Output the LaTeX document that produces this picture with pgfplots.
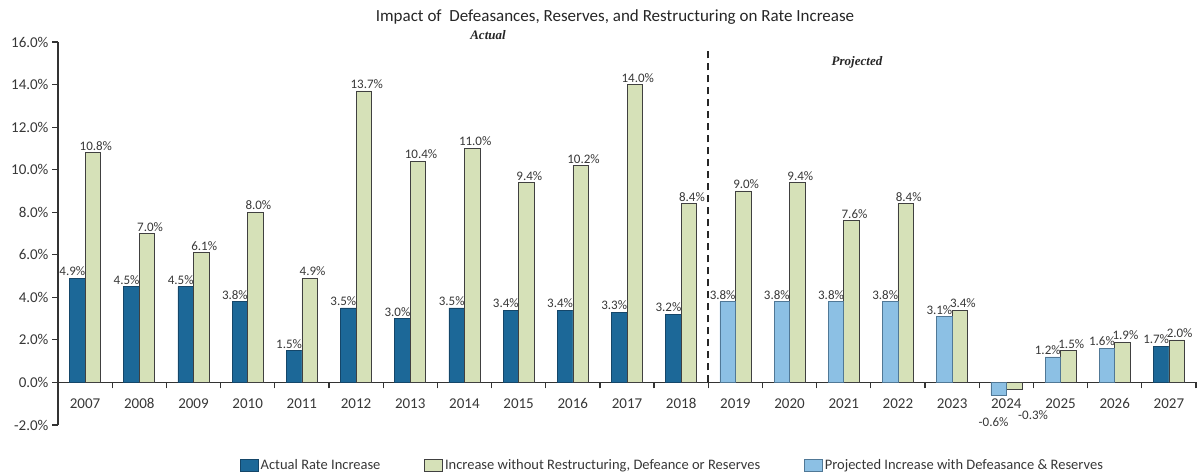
\documentclass[border=0pt]{standalone}
\usepackage{fontspec}
\setmainfont{Carlito}
\newfontfamily\serifit{Liberation Serif}
\usepackage{pgfplots}
\pgfplotsset{compat=1.18}
\definecolor{actblue}{RGB}{28,104,152}
\definecolor{actedge}{RGB}{20,70,105}
\definecolor{lgreen}{RGB}{214,225,184}
\definecolor{projblue}{RGB}{140,192,228}
\definecolor{projedge}{RGB}{80,120,150}
\definecolor{txt}{RGB}{55,55,55}
\begin{document}
\begin{tikzpicture}
\useasboundingbox (0,0) rectangle (1200pt,475pt);
\begin{axis}[
  at={(58pt,50pt)}, anchor=south west,
  scale only axis, width=1138pt, height=383pt,
  xmin=-0.5, xmax=20.5, ymin=-2, ymax=16,
  ybar,
  legend image code/.code={\draw[#1] (0pt,-6pt) rectangle (18pt,6pt);},
  axis x line=middle, axis y line=left,
  axis line style={-, line width=1.3pt, color=black!80},
  every inner x axis line/.append style={-},
  every outer y axis line/.append style={-},
  hide obscured y ticks=false,
  hide obscured x ticks=false,
  xtick={-0.5,0.5,1.5,2.5,3.5,4.5,5.5,6.5,7.5,8.5,9.5,10.5,11.5,12.5,13.5,14.5,15.5,16.5,17.5,18.5,19.5,20.5},
  x tick label as interval,
  xticklabels={2007,2008,2009,2010,2011,2012,2013,2014,2015,2016,2017,2018,2019,2020,2021,2022,2023,2024,2025,2026,2027},
  xticklabel style={anchor=north, text height=10pt, text depth=0pt, yshift=-7pt},
  ytick={-2,0,...,16},
  yticklabel={\pgfmathprintnumber[fixed,fixed zerofill,precision=1]{\tick}\%},
  /pgf/number format/assume math mode=true,
  tick align=outside,
  major tick length=6pt,
  tick style={line width=1.2pt, color=black!80},
  ticklabel style={font=\fontsize{15}{18}\selectfont, color=txt},
  clip=false,
  bar width=15.5pt,
  nodes near coords={\pgfmathprintnumber[fixed,fixed zerofill,precision=1]{\pgfplotspointmeta}\%},
  visualization depends on={y \as \rawy},
  every node near coord/.append style={font=\fontsize{13}{15}\selectfont, color=txt, inner sep=2pt, yshift={(\rawy<0)*(-20)}},
  legend columns=3,
  legend style={at={(0.540,-0.104)}, anchor=center, draw=none, fill=none,
    font=\fontsize{14.5}{16}\selectfont, text=txt,
    /tikz/every even column/.append style={column sep=42pt}},
]
\addplot[fill=actblue, draw=actedge, line width=0.6pt, bar shift=-7.75pt,
  every node near coord/.append style={xshift=-5pt}] coordinates {
(0,4.9)(1,4.5)(2,4.5)(3,3.8)(4,1.5)(5,3.5)(6,3.0)(7,3.5)(8,3.4)(9,3.4)(10,3.3)(11,3.2)(20,1.7)};
\addlegendentry{Actual Rate Increase}
\addplot[fill=lgreen, draw=black!75, line width=0.6pt, bar shift=7.75pt,
  every node near coord/.append style={xshift={3+(\rawy<0)*16}}] coordinates {
(0,10.8)(1,7.0)(2,6.1)(3,8.0)(4,4.9)(5,13.7)(6,10.4)(7,11.0)(8,9.4)(9,10.2)(10,14.0)(11,8.4)(12,9.0)(13,9.4)(14,7.6)(15,8.4)(16,3.4)(17,-0.3)(18,1.5)(19,1.9)(20,2.0)};
\addlegendentry{Increase without Restructuring, Defeance or Reserves}
\addplot[fill=projblue, draw=projedge, line width=0.6pt, bar shift=-7.75pt,
  every node near coord/.append style={xshift=-5pt}] coordinates {
(12,3.8)(13,3.8)(14,3.8)(15,3.8)(16,3.1)(17,-0.6)(18,1.2)(19,1.6)};
\addlegendentry{Projected Increase with Defeasance \& Reserves}
\draw[black!85, line width=1.8pt, dash pattern=on 7pt off 5pt] (axis cs:11.5,0) -- (axis cs:11.5,15.7);
\end{axis}
\node[font=\fontsize{17}{20}\selectfont, color=black!85] at (615pt,458pt) {Impact of\ \ Defeasances, Reserves, and Restructuring on Rate Increase};
\node[font=\serifit\itshape\bfseries\fontsize{13}{15}\selectfont, color=black!85] at (488pt,440pt) {Actual};
\node[font=\serifit\itshape\bfseries\fontsize{13}{15}\selectfont, color=black!85] at (857pt,413pt) {Projected};
\end{tikzpicture}
\end{document}
